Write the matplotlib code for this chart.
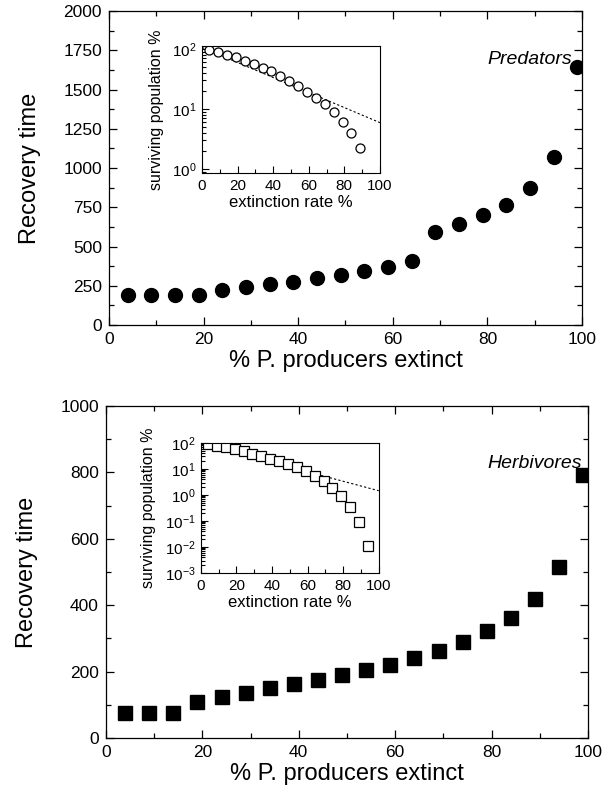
import matplotlib
matplotlib.use("Agg")
import matplotlib.pyplot as plt
from matplotlib.ticker import MultipleLocator, LogLocator, NullFormatter

plt.rcParams['font.family'] = ['Liberation Sans', 'DejaVu Sans']
plt.rcParams['mathtext.default'] = 'regular'

# main panels: recovery time vs % primary producers extinct
x_main = [4, 9, 14, 19, 24, 29, 34, 39, 44, 49, 54, 59, 64, 69, 74, 79, 84, 89, 94, 99]
pred_recovery = [190, 190, 190, 190, 220, 245, 264, 277, 298, 321, 342, 372, 410,
                 593, 644, 701, 767, 870, 1073, 1641]
herb_recovery = [76, 76, 76, 107, 123, 136, 150, 162, 174, 190, 204, 221, 240,
                 262, 288, 322, 362, 420, 514, 792]

# insets: surviving population % vs extinction rate %
x_pred_inset = [4, 9, 14, 19, 24, 29, 34, 39, 44, 49, 54, 59, 64, 69, 74, 79, 84, 89]
pred_surv = [97, 90, 79, 72, 63, 55, 47, 42, 35, 29.5, 24.3, 19.3, 15.3, 12, 8.8, 6.1, 4.0, 2.2]
pred_fit_x = [0, 100]
pred_fit_y = [105, 5.9]

x_herb_inset = [4, 9, 14, 19, 24, 29, 34, 39, 44, 49, 54, 59, 64, 69, 74, 79, 84, 89, 94]
herb_surv = [89, 79, 70, 59, 49, 39, 31, 25, 20, 15.5, 11.9, 8.4, 5.5, 3.4, 1.8, 0.92,
             0.35, 0.09, 0.011]
herb_fit_x = [0, 100]
herb_fit_y = [95, 1.45]

fig = plt.figure(figsize=(6.05, 7.98), dpi=100)


def style_main(ax, ymax, ymajor, yminor):
    ax.set_xlim(0, 100)
    ax.set_ylim(0, ymax)
    ax.xaxis.set_major_locator(MultipleLocator(20))
    ax.xaxis.set_minor_locator(MultipleLocator(10))
    ax.yaxis.set_major_locator(MultipleLocator(ymajor))
    ax.yaxis.set_minor_locator(MultipleLocator(yminor))
    ax.tick_params(which='both', direction='in', top=True, right=True, labelsize=12.5, pad=5)
    ax.tick_params(which='major', length=6, width=0.9)
    ax.tick_params(which='minor', length=3.5, width=0.9)
    ax.set_xlabel('% P. producers extinct', fontsize=17, labelpad=2)
    ax.set_ylabel('Recovery time', fontsize=17, labelpad=16)
    for s in ax.spines.values():
        s.set_linewidth(0.9)


def style_inset(ax, ylo, yhi):
    ax.set_xlim(0, 100)
    ax.set_yscale('log')
    ax.set_ylim(ylo, yhi)
    ax.xaxis.set_major_locator(MultipleLocator(20))
    ax.xaxis.set_minor_locator(MultipleLocator(10))
    ax.yaxis.set_major_locator(LogLocator(base=10, numticks=20))
    ax.yaxis.set_minor_locator(LogLocator(base=10, subs=range(2, 10), numticks=20))
    ax.yaxis.set_minor_formatter(NullFormatter())
    ax.tick_params(which='both', direction='in', labelsize=11, pad=4)
    ax.tick_params(which='major', length=5, width=0.8)
    ax.tick_params(which='minor', length=3, width=0.8)
    ax.set_xlabel('extinction rate %', fontsize=12, labelpad=2)
    ax.set_ylabel('surviving population %', fontsize=11.5, labelpad=6)


# top: predators
ax1 = fig.add_axes([0.180, 0.5927, 0.782, 0.3935])
ax1.plot(x_main, pred_recovery, 'o', color='black', markersize=10)
style_main(ax1, 2000, 250, 125)
ax1.text(0.89, 0.844, 'Predators', transform=ax1.transAxes, fontsize=14,
         style='italic', ha='center', va='center')

in1 = fig.add_axes([0.334, 0.783, 0.294, 0.159])
in1.plot(pred_fit_x, pred_fit_y, linestyle=(0, (2, 2)), color='black', linewidth=0.8)
in1.plot(x_pred_inset, pred_surv, 'o', markerfacecolor='white', markeredgecolor='black',
         markersize=6.5, markeredgewidth=0.9)
style_inset(in1, 0.85, 110)

# bottom: herbivores
ax2 = fig.add_axes([0.175, 0.0752, 0.797, 0.416])
ax2.plot(x_main, herb_recovery, 's', color='black', markersize=9.5)
style_main(ax2, 1000, 200, 100)
ax2.text(0.89, 0.828, 'Herbivores', transform=ax2.transAxes, fontsize=14,
         style='italic', ha='center', va='center')

in2 = fig.add_axes([0.332, 0.282, 0.294, 0.163])
in2.plot(herb_fit_x, herb_fit_y, linestyle=(0, (2, 2)), color='black', linewidth=0.8)
in2.plot(x_herb_inset, herb_surv, 's', markerfacecolor='white', markeredgecolor='black',
         markersize=6.5, markeredgewidth=0.9)
style_inset(in2, 1e-3, 1e2)

fig.savefig('out.png', dpi=100)
